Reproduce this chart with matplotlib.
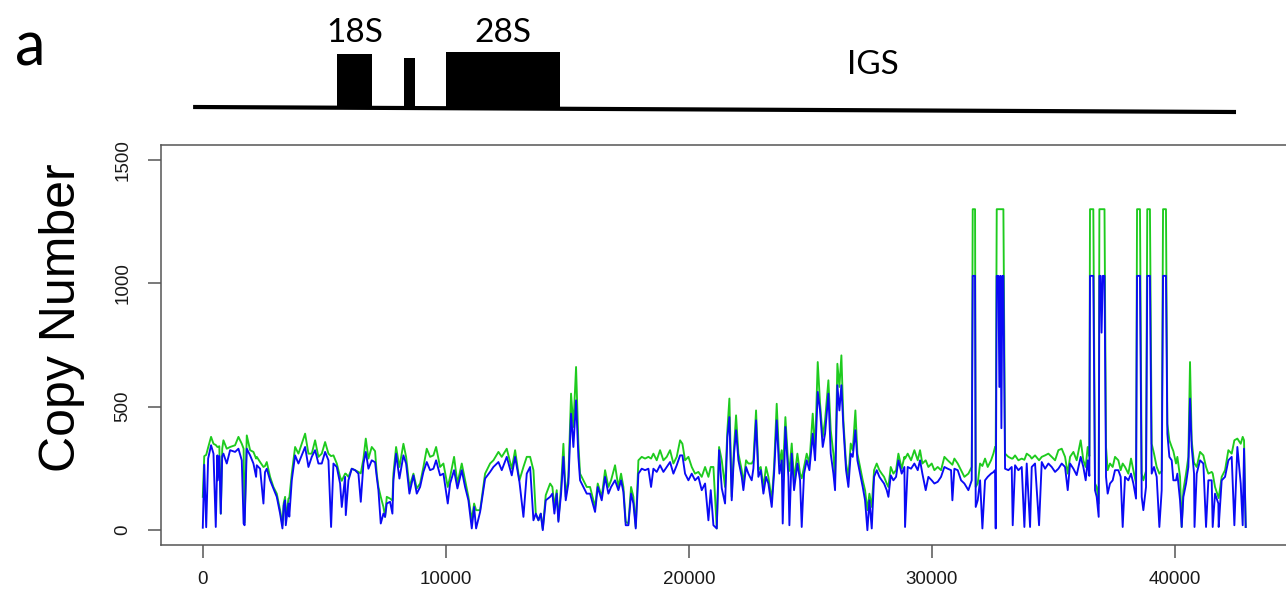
import matplotlib.pyplot as plt

# position along the rDNA repeat (bp) and copy number of the two tracks
pos = [0, 60, 140, 220, 340, 440, 534, 600, 616, 680,
       740, 800, 849, 986, 1124, 1329, 1467, 1604, 1680, 1720,
       1810, 1947, 2084, 2194, 2221, 2358, 2496, 2560, 2633, 2770,
       2907, 3045, 3182, 3278, 3330, 3388, 3415, 3525, 3560, 3662,
       3799, 3936, 4073, 4211, 4348, 4485, 4622, 4759, 4896, 5034,
       5171, 5280, 5377, 5514, 5651, 5720, 5857, 5885, 5994, 6131,
       6268, 6405, 6502, 6612, 6708, 6817, 6954, 7091,
       7159, 7228, 7324, 7434, 7502, 7571, 7708, 7804, 7845, 7955,
       8092, 8257, 8367, 8504, 8669, 8806, 8943, 9080, 9217, 9355,
       9492, 9602, 9766, 9903, 10082, 10178, 10342, 10480, 10658, 10795,
       10932, 11070, 11166, 11248, 11413, 11618, 11824, 11961, 12167, 12304,
       12510, 12716, 12853, 13032, 13196, 13333, 13471, 13608, 13704, 13814,
       13910, 13992, 14115, 14294,
       14388, 14470, 14566, 14635, 14745, 14841, 14937, 15046, 15156, 15252,
       15362, 15458, 15527, 15664, 15801, 15938, 16144, 16254, 16418, 16556,
       16693, 16803, 16967, 17104, 17214, 17310, 17406, 17516, 17626, 17722,
       17818, 17928, 18065, 18202, 18339, 18449, 18545, 18682, 18819, 18957,
       19094, 19231, 19368, 19505, 19643, 19739, 19848, 19986, 20123, 20260,
       20397, 20534, 20672, 20809, 20905, 21015, 21152, 21248, 21358,
       21494, 21590, 21672, 21768, 21864, 21947, 22043, 22180, 22248, 22358,
       22454, 22591, 22660, 22770, 22866, 22962, 23072, 23181, 23277, 23415,
       23511, 23620, 23730, 23826, 23867, 23977, 24101, 24142, 24238, 24334,
       24471, 24581, 24649, 24745, 24855, 24965, 25102, 25198, 25308, 25404,
       25514, 25610, 25747, 25843, 25953, 26021, 26117, 26200, 26282, 26364,
       26474, 26570, 26666, 26749, 26858, 26941, 27050, 27160, 27256, 27352,
       27435, 27531, 27627, 27736, 27846, 27942, 28038, 28148, 28217, 28313,
       28422, 28532, 28628,
       28764, 28874, 28902, 29011, 29149, 29286, 29423, 29519, 29615, 29752,
       29862, 29999, 30109, 30246, 30383, 30521, 30658, 30795, 30850, 30932,
       31069, 31207, 31344, 31508, 31646, 31687, 31783, 31810, 31893, 31989,
       32085, 32194, 32304, 32441, 32537, 32606, 32633, 32675, 32743, 32784,
       32826, 32867, 32908, 32949, 33018, 33155, 33292, 33333, 33429, 33566,
       33704, 33813, 33909, 34047, 34115, 34252, 34417, 34527, 34664, 34801,
       34938, 35076, 35213, 35350, 35487, 35597, 35693, 35830,
       35965, 36130, 36240, 36336, 36418, 36487, 36514, 36600, 36650, 36720,
       36789, 36871, 36900, 36950, 36990, 37040, 37110, 37173, 37241, 37337,
       37447, 37543, 37680, 37776, 37859, 37955, 38092, 38202, 38298, 38408,
       38450, 38570, 38641, 38709, 38819, 38870, 38980, 39052, 39148, 39258,
       39368, 39464, 39520, 39640, 39697, 39780, 39876, 39944, 40054, 40109,
       40219, 40287, 40356, 40466, 40562, 40630, 40699, 40795, 40815, 40905,
       41042, 41179, 41289, 41385, 41522, 41563, 41659, 41796, 41810, 41933,
       42071, 42208, 42345, 42455, 42578, 42716, 42798, 42853, 42922]

green = [135, 300, 305, 335, 378, 350, 345, 337, 337, 340,
         67, 330, 364, 330, 337, 344, 378, 350, 330, 30,
         384, 324, 317, 290, 297, 276, 256, 260, 276, 216,
         175, 148, 81, 20, 110, 135, 40, 128, 130, 229,
         337, 310, 350, 391, 310, 310, 364, 297, 310, 357,
         310, 300, 303, 270, 216, 200, 229, 229, 216, 249,
         243, 236, 230, 290, 371, 290, 337, 320,
         229, 175, 135, 94, 54, 135, 128, 120, 229, 337,
         256, 350, 297, 175, 229, 169, 189, 256, 330, 297,
         303, 337, 256, 270, 175, 216, 297, 189, 270, 202,
         135, 40, 108, 81, 81, 229, 270, 283, 317, 297,
         330, 249, 324, 202, 256, 297, 297, 243, 67, 40,
         67, 5, 142, 189,
         175, 94, 162, 40, 175, 350, 135, 216, 553, 418,
         661, 350, 229, 202, 175, 175, 94, 189, 135, 243,
         175, 202, 263, 175, 229, 175, 34, 27, 175, 135,
         13, 283, 297, 290, 297, 290, 310, 283, 324, 283,
         297, 324, 270, 297, 364, 350, 283, 297, 256, 229,
         236, 216, 256, 216, 256, 256, 7, 337, 283,
         175, 405, 533, 135, 337, 465, 310, 243, 189, 283,
         270, 270, 283, 485, 243, 256, 175, 256, 216, 121,
         256, 512, 270, 324, 216, 458, 256, 240, 351, 202,
         310, 229, 210, 256, 310, 270, 472, 324, 681, 512,
         378, 445, 607, 405, 310, 202, 674, 580, 708, 445,
         270, 216, 351, 324, 485, 310, 256, 202, 162, 81,
         148, 94, 243, 270, 243, 229, 216, 189, 175, 256,
         229, 243, 310,
         249, 297, 290, 310, 283, 324, 283, 324, 270, 283,
         256, 270, 243, 256, 243, 297, 283, 270, 265, 290,
         270, 243, 216, 229, 256, 1300, 1300, 175, 189, 270,
         260, 290, 256, 283, 310, 337, 330, 1300, 1300, 1300,
         1300, 1300, 1300, 1300, 310, 297, 290, 290, 303, 283,
         290, 285, 310, 300, 290, 303, 283, 297, 303, 310,
         297, 283, 324, 330, 297, 229, 297, 317,
         283, 364, 283, 256, 337, 300, 1300, 1300, 1300, 189,
         175, 108, 1300, 1300, 1300, 1300, 1300, 337, 243, 270,
         256, 297, 283, 243, 270, 256, 229, 290, 243, 189,
         1300, 1300, 229, 202, 240, 1300, 1300, 350, 310, 256,
         229, 240, 1300, 1300, 431, 364, 337, 320, 270, 297,
         216, 13, 162, 229, 297, 681, 364, 270, 270, 256,
         317, 303, 256, 229, 236, 230, 175, 135, 130, 216,
         243, 324, 310, 364, 371, 350, 378, 364, 13]

blue = [10, 265, 12, 290, 344, 310, 13, 303, 202, 300,
        67, 300, 310, 270, 324, 317, 330, 283, 27, 20,
        330, 303, 270, 216, 263, 249, 108, 235, 249, 202,
        169, 135, 67, 7, 100, 121, 20, 108, 55, 202,
        303, 270, 303, 337, 256, 297, 324, 270, 270, 317,
        283, 13, 270, 256, 189, 94, 216, 61, 202, 249,
        243, 229, 115, 270, 317, 249, 283, 275,
        216, 162, 27, 67, 54, 108, 115, 67, 202, 310,
        209, 303, 270, 148, 222, 148, 175, 236, 276, 243,
        249, 283, 222, 229, 108, 189, 243, 169, 243, 175,
        121, 7, 94, 7, 74, 209, 236, 256, 276, 243,
        297, 222, 297, 196, 54, 229, 256, 40, 67, 40,
        67, 0, 121, 135,
        148, 67, 148, 34, 148, 297, 121, 189, 472, 337,
        526, 297, 202, 175, 148, 148, 74, 175, 121, 216,
        148, 175, 202, 162, 202, 155, 20, 20, 148, 108,
        7, 229, 249, 243, 249, 175, 249, 236, 263, 236,
        256, 276, 229, 263, 303, 303, 229, 202, 229, 202,
        216, 162, 189, 40, 162, 20, 7, 324, 170,
        108, 378, 458, 121, 310, 405, 283, 216, 162, 256,
        229, 202, 250, 445, 216, 243, 148, 216, 189, 94,
        229, 445, 229, 283, 27, 418, 216, 20, 310, 162,
        270, 202, 13, 229, 283, 243, 391, 283, 560, 485,
        337, 391, 553, 310, 229, 162, 587, 485, 587, 418,
        243, 175, 310, 297, 405, 283, 229, 175, 121, 0,
        121, 7, 216, 243, 216, 202, 189, 162, 135, 222,
        202, 216, 283,
        229, 256, 13, 256, 249, 270, 243, 283, 229, 162,
        216, 202, 189, 196, 216, 256, 249, 243, 121, 249,
        243, 202, 189, 162, 202, 1030, 1030, 94, 121, 202,
        7, 202, 216, 229, 235, 243, 7, 1030, 1030, 580,
        1030, 413, 1030, 1030, 249, 243, 256, 20, 263, 243,
        256, 13, 270, 13, 256, 270, 20, 276, 249, 270,
        256, 236, 249, 270, 256, 162, 270, 249,
        223, 297, 256, 202, 283, 220, 1030, 1030, 1030, 162,
        135, 54, 1030, 1030, 800, 1030, 1030, 216, 148, 189,
        202, 243, 243, 216, 13, 216, 202, 229, 189, 128,
        1030, 1030, 135, 81, 175, 1030, 1030, 229, 256, 216,
        13, 162, 1030, 1030, 391, 297, 283, 202, 202, 229,
        121, 13, 135, 189, 256, 533, 337, 229, 13, 229,
        283, 270, 13, 202, 202, 13, 148, 108, 13, 202,
        216, 283, 297, 20, 337, 189, 20, 330, 13]

x_ticks = [0, 10000, 20000, 30000, 40000]
y_ticks = [0, 500, 1000, 1500]

# gene map above the plot
gene_names = ["18S", "", "28S"]
gene_start = [5527, 8284, 10012]
gene_end = [6967, 8736, 14704]
gene_height = [54, 50, 56]
backbone_x = [-399, 42523]
backbone_y = [23, 18]
igs_pos = 27584

W, H = 1286, 597
fig = plt.figure(figsize=(W / 100, H / 100), dpi=100)
plt.rcParams['font.family'] = ['Liberation Sans', 'DejaVu Sans']

left = 161 / W
width = (1289.4 - 161) / W
ax = fig.add_axes([left, (H - 545) / H, width, 400 / H])
ax.plot(pos, green, color="#1ecb1e", lw=1.35)
ax.plot(pos, blue, color="#0a0af5", lw=1.35)
ax.set_xlim(-1720, 44720)
ax.set_ylim(-60, 1560)
ax.set_xticks(x_ticks)
ax.set_xticklabels([str(t) for t in x_ticks])
ax.set_yticks(y_ticks)
ax.set_yticklabels([str(t) for t in y_ticks], rotation=90, va="center")
ax.tick_params(axis="both", length=9.5, width=1.1, color="#555555",
               labelsize=13.5, labelcolor="#1a1a1a")
ax.tick_params(axis="x", pad=9)
ax.tick_params(axis="y", pad=12)
for s in ax.spines.values():
    s.set_color("#555555")
    s.set_linewidth(1.1)

fig.text(62 / W, 1 - 318 / H, "Copy Number", rotation=90, fontsize=36,
         ha="center", va="center")

# schematic
ax2 = fig.add_axes([left, (H - 130) / H, width, 130 / H])
ax2.set_xlim(-1720, 44720)
ax2.set_ylim(0, 130)
ax2.axis("off")
ax2.plot(backbone_x, backbone_y, color="black", lw=3, solid_capstyle="butt")
slope = (backbone_y[1] - backbone_y[0]) / (backbone_x[1] - backbone_x[0])
bottoms = [backbone_y[0] + slope * (s - backbone_x[0]) for s in gene_start]
widths = [e - s for s, e in zip(gene_start, gene_end)]
ax2.bar(gene_start, gene_height, width=widths, bottom=bottoms, align="edge",
        color="black", linewidth=0)
for name, s, e in zip(gene_names, gene_start, gene_end):
    if name:
        ax2.text((s + e) / 2, 97, name, ha="center", va="center",
                 fontsize=24, family="Lato")
ax2.text(igs_pos, 65, "IGS", ha="center", va="center", fontsize=24, family="Lato")

fig.text(30 / W, 1 - 48 / H, "a", ha="center", va="center", fontsize=44,
         family="Lato")

fig.savefig("out.png", dpi=100)
